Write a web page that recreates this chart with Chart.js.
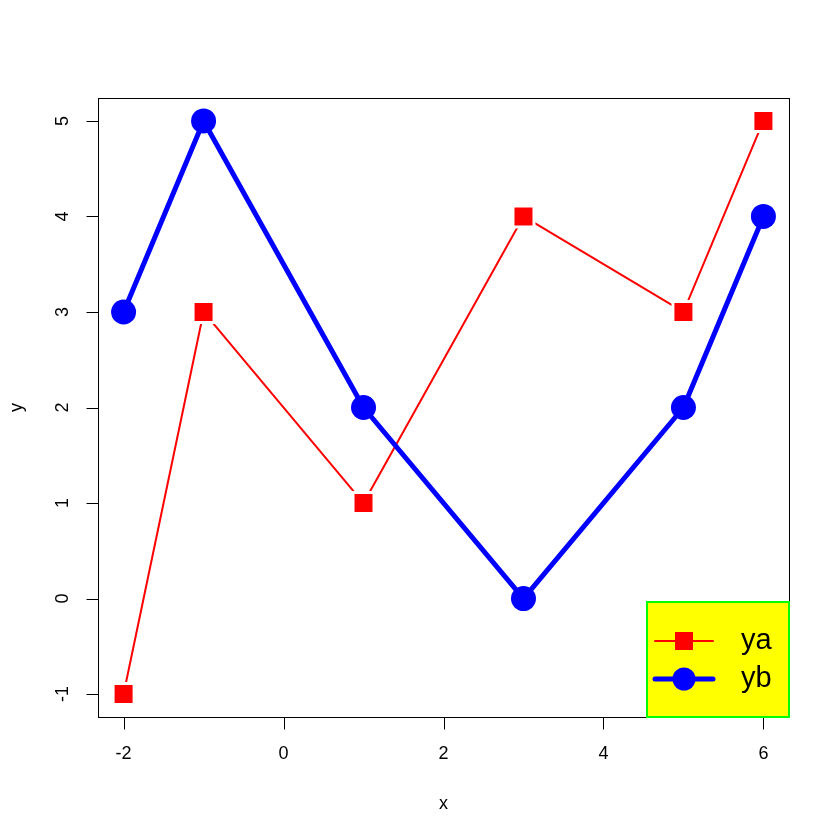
<!DOCTYPE html>
<html>
<head>
<meta charset="utf-8">
<script src="https://cdn.jsdelivr.net/npm/chart.js@4/dist/chart.umd.min.js"></script>
<style>
html,body{margin:0;padding:0;background:#fff;}
canvas{display:block;}
</style>
</head>
<body>
<canvas id="c" width="840" height="840"></canvas>
<script>
const xValues = [-2, -1, 1, 3, 5, 6];
const yaValues = [-1, 3, 1, 4, 3, 5];
const ybValues = [3, 5, 2, 0, 2, 4];
const xTicks = [-2, 0, 2, 4, 6];
const yTicks = [-1, 0, 1, 2, 3, 4, 5];
const seriesLabels = ['ya', 'yb'];
const axisTitles = {x: 'x', y: 'y'};

const FONT = '"Liberation Sans", Arial, Helvetica, sans-serif';

function pts(ys){ return xValues.map((x,i)=>({x:x, y:ys[i]})); }

const framePlugin = {
  id: 'rframe',
  afterDraw(chart){
    const ctx = chart.ctx;
    const a = chart.chartArea;
    const xs = chart.scales.x, ys = chart.scales.y;
    ctx.save();
    // box
    ctx.strokeStyle = '#000';
    ctx.lineWidth = 1;
    ctx.strokeRect(Math.round(a.left)+0.5, Math.round(a.top)+0.5, Math.round(a.right-a.left), Math.round(a.bottom-a.top));
    // x axis
    const bx = Math.round(a.bottom)+0.5;
    ctx.beginPath();
    ctx.moveTo(Math.round(xs.getPixelForValue(xTicks[0]))+0.5, bx);
    ctx.lineTo(Math.round(xs.getPixelForValue(xTicks[xTicks.length-1]))+0.5, bx);
    xTicks.forEach(v=>{
      const px = Math.round(xs.getPixelForValue(v))+0.5;
      ctx.moveTo(px, bx); ctx.lineTo(px, bx+12);
    });
    ctx.stroke();
    ctx.fillStyle = '#000';
    ctx.font = '18px ' + FONT;
    ctx.textAlign = 'center';
    ctx.textBaseline = 'middle';
    xTicks.forEach(v=>{
      ctx.fillText(String(v), xs.getPixelForValue(v), bx+37);
    });
    // y axis
    const lx = Math.round(a.left)+0.5;
    ctx.beginPath();
    ctx.moveTo(lx, Math.round(ys.getPixelForValue(yTicks[0]))+0.5);
    ctx.lineTo(lx, Math.round(ys.getPixelForValue(yTicks[yTicks.length-1]))+0.5);
    yTicks.forEach(v=>{
      const py = Math.round(ys.getPixelForValue(v))+0.5;
      ctx.moveTo(lx, py); ctx.lineTo(lx-12, py);
    });
    ctx.stroke();
    yTicks.forEach(v=>{
      ctx.save();
      ctx.translate(lx-35, ys.getPixelForValue(v));
      ctx.rotate(-Math.PI/2);
      ctx.fillText(String(v), 0, 0);
      ctx.restore();
    });
    // axis titles
    ctx.fillText(axisTitles.x, (a.left+a.right)/2, 804);
    ctx.save();
    ctx.translate(17, (a.top+a.bottom)/2);
    ctx.rotate(-Math.PI/2);
    ctx.fillText(axisTitles.y, 0, 0);
    ctx.restore();

    // legend
    const L = 647, R = Math.round(a.right), T = 602, B = Math.round(a.bottom);
    ctx.fillStyle = '#ffff00';
    ctx.fillRect(L, T, R-L, B-T);
    ctx.strokeStyle = '#00ff00';
    ctx.lineWidth = 2;
    ctx.strokeRect(L, T, R-L, B-T);
    const ds = chart.data.datasets;
    const rowsY = [641, 679];
    [0,1].forEach(i=>{
      const d = ds[i];
      const y = rowsY[i];
      ctx.strokeStyle = d.borderColor;
      ctx.lineWidth = d.borderWidth;
      ctx.lineCap = 'round';
      ctx.beginPath();
      ctx.moveTo(655, y); ctx.lineTo(713, y);
      ctx.stroke();
      ctx.fillStyle = d.pointBackgroundColor;
      if (d.pointStyle === 'rect') {
        ctx.fillRect(684-9, y-9, 18, 18);
      } else {
        ctx.beginPath();
        ctx.arc(684, y, 11.5, 0, Math.PI*2);
        ctx.fill();
      }
      ctx.fillStyle = '#000';
      ctx.font = '29px ' + FONT;
      ctx.textAlign = 'left';
      ctx.textBaseline = 'middle';
      ctx.fillText(d.label, 741, y);
    });
    ctx.restore();
  }
};

new Chart(document.getElementById('c'), {
  type: 'line',
  data: {
    datasets: [
      {
        label: seriesLabels[0],
        data: pts(yaValues),
        order: 1,
        borderColor: '#ff0000',
        borderWidth: 2,
        pointStyle: 'rect',
        pointRadius: 14.85,
        pointBackgroundColor: '#ff0000',
        pointBorderColor: '#ffffff',
        pointBorderWidth: 3,
        tension: 0,
        fill: false
      },
      {
        label: seriesLabels[1],
        data: pts(ybValues),
        order: 0,
        borderColor: '#0000ff',
        borderWidth: 5,
        borderJoinStyle: 'round',
        borderCapStyle: 'round',
        pointStyle: 'circle',
        pointRadius: 12.5,
        pointBackgroundColor: '#0000ff',
        pointBorderColor: '#0000ff',
        pointBorderWidth: 0,
        tension: 0,
        fill: false
      }
    ]
  },
  options: {
    responsive: false,
    animation: false,
    devicePixelRatio: 1,
    layout: { padding: { left: 98, right: 51, top: 98, bottom: 123 } },
    scales: {
      x: { type: 'linear', min: -2.32, max: 6.32, display: false },
      y: { type: 'linear', min: -1.24, max: 5.24, display: false }
    },
    plugins: { legend: { display: false }, tooltip: { enabled: false } },
    elements: { line: { borderJoinStyle: 'round' } }
  },
  plugins: [framePlugin]
});
</script>
</body>
</html>
